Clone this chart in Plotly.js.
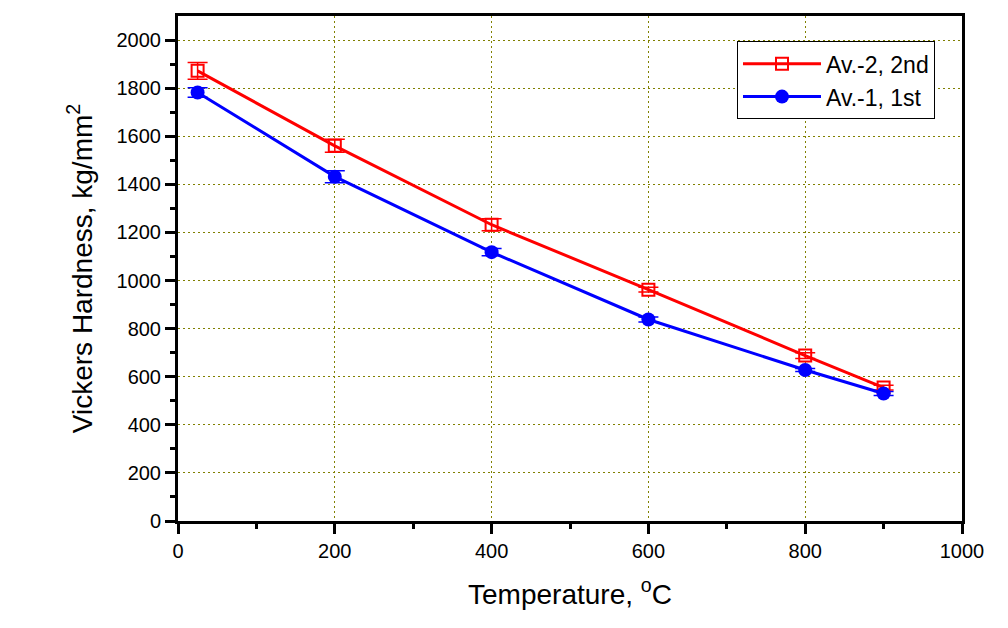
<!DOCTYPE html>
<html>
<head>
<meta charset="utf-8">
<script src="https://cdn.plot.ly/plotly-3.0.1.min.js"></script>
<style>html,body{margin:0;padding:0;background:#fff;}#chart{width:1008px;height:628px;}</style>
</head>
<body>
<div id="chart"></div>
<script>
const temperature = [25, 200, 400, 600, 800, 900];
const hardnessAv2 = [1872, 1560, 1232, 962, 688, 555];
const errorAv2 = [35, 27, 25, 10, 12, 10];
const hardnessAv1 = [1782, 1432, 1118, 838, 628, 530];
const errorAv1 = [20, 25, 15, 10, 6, 8];
const seriesNames = ["Av.-2, 2nd", "Av.-1, 1st"];

const traces = [
  {
    x: temperature, y: hardnessAv2, name: seriesNames[0],
    type: "scatter", mode: "lines+markers",
    line: {color: "#ff0000", width: 3},
    marker: {symbol: "square-open", size: 12, color: "#ff0000", line: {width: 2, color: "#ff0000"}},
    error_y: {type: "data", array: errorAv2, visible: true, color: "#ff0000", thickness: 1.5, width: 10}
  },
  {
    x: temperature, y: hardnessAv1, name: seriesNames[1],
    type: "scatter", mode: "lines+markers",
    line: {color: "#0000ff", width: 3},
    marker: {symbol: "circle", size: 14, color: "#0000ff"},
    error_y: {type: "data", array: errorAv1, visible: true, color: "#0000ff", thickness: 1.5, width: 10}
  }
];

const font = "Arial, 'Liberation Sans', sans-serif";
const layout = {
  width: 1008, height: 628,
  margin: {l: 178, r: 46, t: 16, b: 107},
  paper_bgcolor: "#ffffff", plot_bgcolor: "#ffffff",
  font: {family: font, color: "#000000", size: 20},
  showlegend: true,
  legend: {
    x: 0.713, y: 0.95, xanchor: "left", yanchor: "top",
    bordercolor: "#000000", borderwidth: 1, bgcolor: "#ffffff",
    font: {family: font, size: 23, color: "#000000"},
    traceorder: "normal", itemwidth: 78, tracegroupgap: 0
  },
  xaxis: {
    range: [0, 1000], tickvals: [0, 200, 400, 600, 800, 1000],
    ticks: "outside", ticklen: 10, tickwidth: 3, tickcolor: "#000",
    showline: true, linewidth: 3, linecolor: "#000", mirror: true,
    showgrid: true, gridcolor: "#808000", gridwidth: 1, griddash: "2px,3px",
    zeroline: false,
    minor: {tickvals: [100, 300, 500, 700, 900], ticks: "outside", ticklen: 5, tickwidth: 3, tickcolor: "#000", showgrid: false},
    tickfont: {size: 20, family: font},
    title: {text: "Temperature, <sup>o</sup>C", font: {size: 28, family: font}, standoff: 24}
  },
  yaxis: {
    range: [0, 2100], tickvals: [0, 200, 400, 600, 800, 1000, 1200, 1400, 1600, 1800, 2000],
    ticks: "outside", ticklen: 10, tickwidth: 3, tickcolor: "#000",
    showline: true, linewidth: 3, linecolor: "#000", mirror: true,
    showgrid: true, gridcolor: "#808000", gridwidth: 1, griddash: "2px,3px",
    zeroline: false,
    minor: {tickvals: [100, 300, 500, 700, 900, 1100, 1300, 1500, 1700, 1900], ticks: "outside", ticklen: 5, tickwidth: 3, tickcolor: "#000", showgrid: false},
    tickfont: {size: 20, family: font},
    title: {text: "Vickers Hardness, kg/mm<sup>2</sup>", font: {size: 28, family: font}, standoff: 16}
  }
};

Plotly.newPlot("chart", traces, layout, {displayModeBar: false, staticPlot: true});
</script>
</body>
</html>
